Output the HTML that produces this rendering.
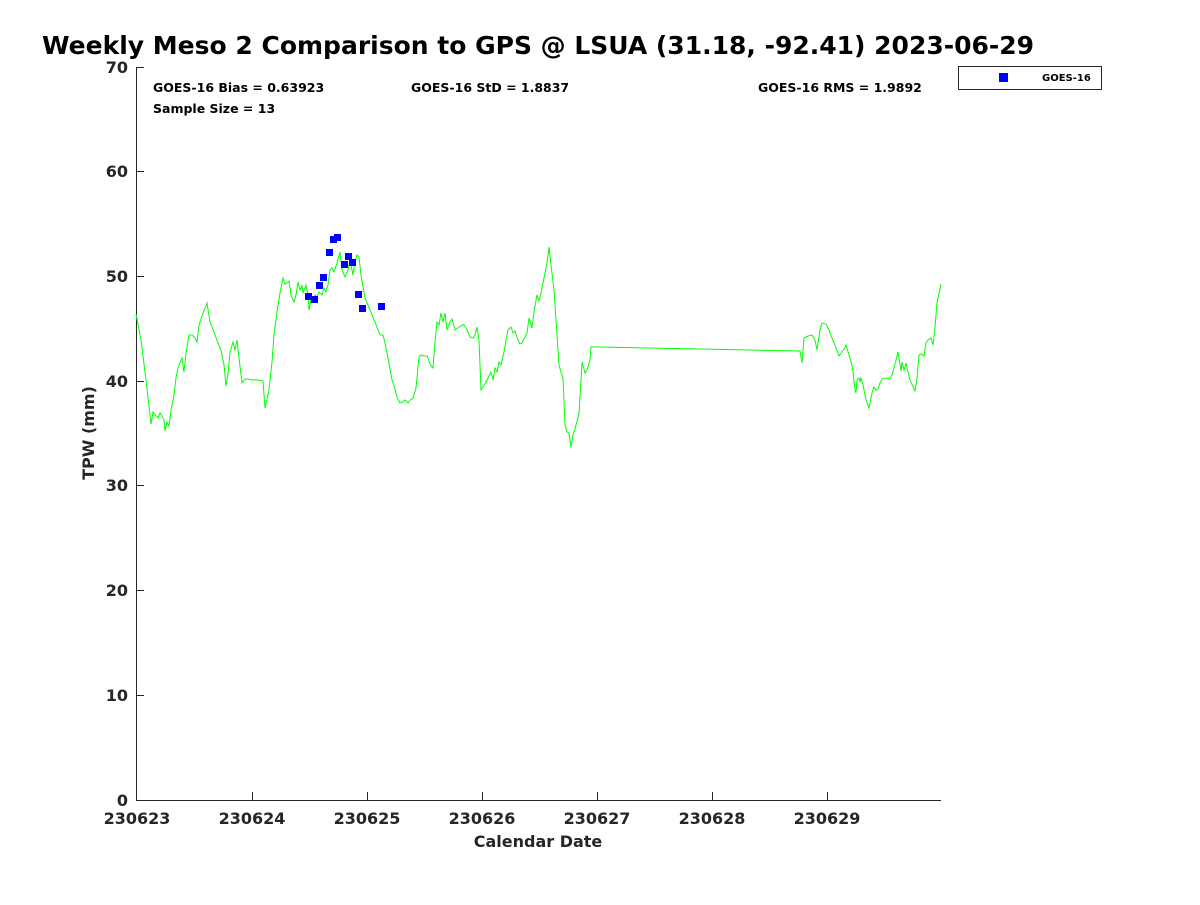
<!DOCTYPE html>
<html><head><meta charset="utf-8"><style>
body{margin:0;background:#fff;}
svg text{font-family:"DejaVu Sans","Liberation Sans",sans-serif;font-weight:bold;fill:#262626;}
</style></head><body>
<svg width="1200" height="900" xmlns="http://www.w3.org/2000/svg">
<rect width="1200" height="900" fill="#fff"/>
<text x="42" y="54" font-size="25" style="fill:#000">Weekly Meso 2 Comparison to GPS @ LSUA (31.18, -92.41) 2023-06-29</text>
<g stroke="#262626" stroke-width="1" fill="none">
<line x1="136.5" y1="67" x2="136.5" y2="800"/>
<line x1="136" y1="800.5" x2="941" y2="800.5"/>
</g>
<g stroke="#262626" stroke-width="1">
<line x1="136" y1="695.5" x2="144" y2="695.5"/><line x1="136" y1="590.5" x2="144" y2="590.5"/>
<line x1="136" y1="485.5" x2="144" y2="485.5"/><line x1="136" y1="381.5" x2="144" y2="381.5"/>
<line x1="136" y1="276.5" x2="144" y2="276.5"/><line x1="136" y1="171.5" x2="144" y2="171.5"/>
<line x1="136" y1="67.5" x2="144" y2="67.5"/>
<line x1="252.5" y1="800" x2="252.5" y2="792"/><line x1="367.5" y1="800" x2="367.5" y2="792"/>
<line x1="482.5" y1="800" x2="482.5" y2="792"/><line x1="597.5" y1="800" x2="597.5" y2="792"/>
<line x1="712.5" y1="800" x2="712.5" y2="792"/><line x1="827.5" y1="800" x2="827.5" y2="792"/>
</g>
<g font-size="16" text-anchor="end">
<text x="128" y="806">0</text><text x="128" y="701">10</text><text x="128" y="596">20</text>
<text x="128" y="491">30</text><text x="128" y="387">40</text><text x="128" y="282">50</text>
<text x="128" y="177">60</text><text x="128" y="73">70</text>
</g>
<g font-size="16" text-anchor="middle">
<text x="137" y="824">230623</text><text x="252" y="824">230624</text><text x="367" y="824">230625</text>
<text x="482" y="824">230626</text><text x="597" y="824">230627</text><text x="712" y="824">230628</text>
<text x="827" y="824">230629</text>
</g>
<text x="538" y="847" font-size="16" text-anchor="middle">Calendar Date</text>
<text transform="translate(94,433) rotate(-90)" font-size="16" text-anchor="middle">TPW (mm)</text>
<g font-size="12.5">
<text x="153" y="92" style="fill:#000">GOES-16 Bias = 0.63923</text>
<text x="411" y="92" style="fill:#000">GOES-16 StD = 1.8837</text>
<text x="758" y="92" style="fill:#000">GOES-16 RMS = 1.9892</text>
<text x="153" y="113" style="fill:#000">Sample Size = 13</text>
</g>
<polyline fill="none" stroke="#00ff00" stroke-width="1" points="136,314 141,340 146,380 151,424 153,412 156,416 158,418 160,413 162,416 164,420 165,431 167,422 169,426 171,410 174,395 176,378 178,368 180,363 182,358 184,372 186,353 189,335 192,335 195,338 197,342 199,325 203,313 207,303 210,322 214,332 218,343 221,350 224,365 226,386 228,374 230,352 233,342 235,350 237,340 239,358 242,383 245,379 248,379 252,380 258,380 263,381 265,408 269,390 272,362 274,335 277,312 280,293 283,278 285,284 287,283 289,281 291,295 294,302 296,295 298,282 300,290 302,285 303,293 306,285 308,295 309,310 311,300 313,302 315,295 317,297 319,292 322,295 324,288 326,292 328,285 330,270 332,268 334,272 337,263 340,252 342,270 345,277 348,270 350,260 353,275 355,262 357,255 359,257 361,275 365,298 370,310 375,322 380,335 383,335 385,343 388,358 392,380 394,385 397,397 400,403 403,402 405,400 408,403 410,400 413,398 416,388 419,357 421,355 424,356 427,356 431,366 433,368 435,342 437,322 439,325 441,313 443,322 445,313 447,330 450,322 452,319 455,330 458,328 462,325 464,325 467,330 470,337 473,338 475,335 477,327 479,340 481,390 485,384 488,378 491,372 493,380 495,368 497,372 499,362 501,365 504,352 508,330 511,327 513,333 515,331 518,340 520,344 522,343 525,337 527,333 529,318 532,328 534,312 537,295 539,301 541,293 544,278 547,263 549,247 551,265 554,290 557,335 559,365 561,372 563,378 565,425 567,432 569,433 571,447 573,435 576,425 579,414 582,362 585,373 587,370 590,360 591,347 600,347 800,351 802,363 804,338 808,336 812,335 815,340 817,350 820,330 822,323 826,324 829,330 832,338 835,345 839,356 842,352 845,348 846,345 849,355 852,365 853,372 855,390 856,393 857,380 859,378 860,382 861,378 863,385 866,400 869,408 872,393 874,387 876,390 878,389 880,383 882,379 886,378 890,379 892,375 896,360 898,352 901,371 902,362 904,370 906,363 907,368 910,380 915,391 917,378 919,355 921,354 924,356 926,343 928,340 931,338 933,345 935,327 937,303 941,284"/>
<g fill="#0000ff">
<rect x="305" y="293" width="7" height="7"/><rect x="311" y="296" width="7" height="7"/>
<rect x="316" y="282" width="7" height="7"/><rect x="320" y="274" width="7" height="7"/>
<rect x="326" y="249" width="7" height="7"/><rect x="330" y="236" width="7" height="7"/>
<rect x="334" y="234" width="7" height="7"/><rect x="341" y="261" width="7" height="7"/>
<rect x="345" y="253" width="7" height="7"/><rect x="349" y="259" width="7" height="7"/>
<rect x="355" y="291" width="7" height="7"/><rect x="359" y="305" width="7" height="7"/>
<rect x="378" y="303" width="7" height="7"/>
</g>
<rect x="958.5" y="66.5" width="143" height="23" fill="#fff" stroke="#262626"/>
<rect x="999" y="73" width="9" height="9" fill="#0000ff"/>
<text x="1042" y="81" font-size="10" style="fill:#000">GOES-16</text>
</svg>
</body></html>
